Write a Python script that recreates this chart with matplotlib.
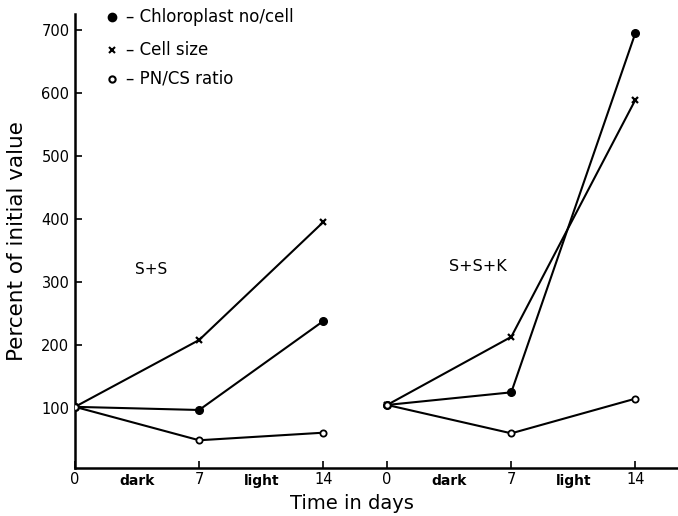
import matplotlib
matplotlib.use("Agg")
import matplotlib.pyplot as plt

# days sampled in each experiment
days = [0, 7, 14]
day_labels = ["0", "7", "14"]
panel_offset = 17.6  # second experiment drawn to the right on the same axis

# S+S (percent of initial value)
ss_chloroplast = [102, 97, 238]
ss_cell_size = [102, 208, 395]
ss_ratio = [102, 49, 61]

# S+S+K
ssk_chloroplast = [105, 125, 695]
ssk_cell_size = [105, 213, 589]
ssk_ratio = [105, 60, 115]

y_ticks = [100, 200, 300, 400, 500, 600, 700]

plt.rcParams["font.family"] = ["DejaVu Sans"]

fig = plt.figure(figsize=(6.78, 5.16), dpi=100)
ax = fig.add_axes([0.1106, 0.093, 0.8894, 0.880])

lw = 1.5


def draw_panel(x0, chloro, size, ratio):
    xs = [x0 + d for d in days]
    ax.plot(xs, size, color="black", lw=lw, marker="x", ms=5, mew=1.6, zorder=3)
    ax.plot(xs, chloro, color="black", lw=lw, marker="o", ms=5.5,
            mfc="black", mec="black", zorder=4)
    ax.plot(xs, ratio, color="black", lw=lw, marker="o", ms=4.5,
            mfc="white", mec="black", mew=1.3, zorder=4)


draw_panel(0, ss_chloroplast, ss_cell_size, ss_ratio)
draw_panel(panel_offset, ssk_chloroplast, ssk_cell_size, ssk_ratio)

ax.set_xlim(0, 34.0)
ax.set_ylim(5, 725)

xt = days + [panel_offset + d for d in days]
ax.set_xticks(xt)
ax.set_xticklabels(day_labels + day_labels, fontsize=10.5)
ax.set_yticks(y_ticks)
ax.set_yticklabels([str(v) for v in y_ticks], fontsize=10.5)
ax.tick_params(axis="both", direction="in", length=5, width=1.2, color="black")
ax.tick_params(axis="x", pad=3)
ax.tick_params(axis="y", pad=4)

for s in ["top", "right"]:
    ax.spines[s].set_visible(False)
for s in ["left", "bottom"]:
    ax.spines[s].set_linewidth(1.8)

# dark / light period labels under the axis
for x0 in [0, panel_offset]:
    ax.text(x0 + 3.5, -0.014, "dark", transform=ax.get_xaxis_transform(),
            ha="center", va="top", fontsize=10, fontweight="bold")
    ax.text(x0 + 10.5, -0.014, "light", transform=ax.get_xaxis_transform(),
            ha="center", va="top", fontsize=10, fontweight="bold")

ax.text(4.3, 320, "S+S", fontsize=11, ha="center", va="center")
ax.text(22.7, 324, "S+S+K", fontsize=11.5, ha="center", va="center")

ax.set_ylabel("Percent of initial value", fontsize=15.5, labelpad=10)
ax.set_xlabel("Time in days", fontsize=14)
ax.xaxis.set_label_coords(0.459, -0.058)

# key in the upper left
key_x = 2.1
key = [
    (720, "o", "black", "black", 5.5, "– Chloroplast no/cell"),
    (668, "x", "black", "black", 5, "– Cell size"),
    (622, "o", "white", "black", 4.5, "– PN/CS ratio"),
]
for yk, m, fc, ec, ms, label in key:
    ax.plot([key_x], [yk], marker=m, ms=ms, mfc=fc, mec=ec, mew=1.5,
            color="black", linestyle="none", clip_on=False)
    ax.text(key_x + 0.8, yk, label, fontsize=12, va="center", ha="left")

fig.savefig("out.png", dpi=100)
